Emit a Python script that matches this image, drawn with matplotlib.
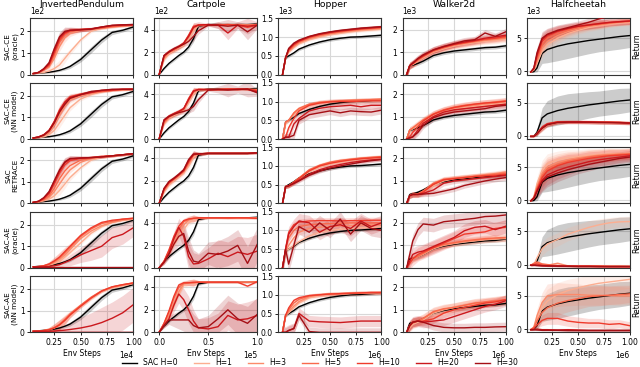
import numpy as np
import matplotlib
matplotlib.use("Agg")
import matplotlib.pyplot as plt

ENVS = ["InvertedPendulum", "Cartpole", "Hopper", "Walker2d", "Halfcheetah"]
METHODS = ["SAC-CE\n(oracle)", "SAC-CE\n(NN model)", "SAC\nRETRACE",
           "SAC-AE\n(oracle)", "SAC-AE\n(NN model)"]
SERIES = ["SAC H=0", "H=1", "H=3", "H=5", "H=10", "H=20", "H=30"]
COLORS = ["#000000", "#fcae91", "#fc8a6a", "#f9694c", "#ef3b2c", "#cb181d", "#a50f15"]

X_SCALE = [1e4, 1e5, 1e6, 1e6, 1e6]
Y_SCALE = [1e2, 1e2, 1e3, 1e3, 1e3]

# ---------------- InvertedPendulum (x in 1e4 steps, y in 1e2) ----------------
IP_X = [0.05, 0.1, 0.15, 0.2, 0.25, 0.3, 0.35, 0.4, 0.5, 0.6, 0.7, 0.8, 0.9, 1.0]
IP_BLACK = [0.05, 0.07, 0.09, 0.11, 0.15, 0.2, 0.28, 0.38, 0.7, 1.15, 1.6, 1.95, 2.05, 2.2]
IP_BLACK_SD = [0.01, 0.02, 0.02, 0.03, 0.04, 0.05, 0.07, 0.09, 0.12, 0.15, 0.13, 0.1, 0.08, 0.07]
IP_SD_A = [0.02, 0.03, 0.06, 0.1, 0.18, 0.22, 0.2, 0.14, 0.09, 0.07, 0.06, 0.05, 0.05, 0.05]
IP_R1 = [
    [0.05, 0.07, 0.1, 0.17, 0.28, 0.45, 0.75, 1.05, 1.6, 2.0, 2.15, 2.2, 2.25, 2.28],
    [0.05, 0.1, 0.2, 0.35, 0.75, 1.3, 1.7, 1.9, 2.05, 2.1, 2.15, 2.2, 2.25, 2.28],
    [0.05, 0.1, 0.22, 0.4, 0.9, 1.5, 1.85, 2.0, 2.08, 2.1, 2.15, 2.22, 2.25, 2.3],
    [0.05, 0.1, 0.25, 0.45, 1.0, 1.6, 1.9, 2.02, 2.08, 2.1, 2.18, 2.25, 2.28, 2.3],
    [0.05, 0.1, 0.25, 0.5, 1.1, 1.7, 1.95, 2.05, 2.08, 2.12, 2.2, 2.27, 2.3, 2.3],
    [0.05, 0.1, 0.28, 0.55, 1.2, 1.75, 2.0, 2.05, 2.07, 2.1, 2.2, 2.28, 2.3, 2.32],
]
IP_R2 = [
    [0.05, 0.07, 0.1, 0.2, 0.4, 0.75, 1.1, 1.45, 1.85, 2.05, 2.2, 2.25, 2.28, 2.3],
    [0.05, 0.08, 0.15, 0.3, 0.65, 1.1, 1.5, 1.8, 2.0, 2.1, 2.18, 2.25, 2.28, 2.3],
    [0.05, 0.09, 0.18, 0.35, 0.75, 1.25, 1.65, 1.9, 2.05, 2.15, 2.2, 2.25, 2.28, 2.3],
    [0.05, 0.1, 0.2, 0.4, 0.8, 1.35, 1.7, 1.95, 2.08, 2.18, 2.22, 2.25, 2.3, 2.3],
    [0.05, 0.1, 0.2, 0.4, 0.8, 1.3, 1.7, 1.92, 2.05, 2.15, 2.25, 2.28, 2.3, 2.3],
    [0.05, 0.09, 0.18, 0.38, 0.75, 1.25, 1.6, 1.88, 2.05, 2.2, 2.25, 2.3, 2.3, 2.3],
]
IP_R3 = [
    [0.05, 0.07, 0.12, 0.2, 0.35, 0.6, 0.9, 1.2, 1.65, 2.0, 2.15, 2.2, 2.25, 2.28],
    [0.05, 0.08, 0.15, 0.28, 0.55, 0.9, 1.25, 1.55, 1.9, 2.08, 2.15, 2.2, 2.25, 2.28],
    [0.05, 0.09, 0.18, 0.35, 0.7, 1.15, 1.5, 1.75, 2.0, 2.1, 2.15, 2.2, 2.25, 2.28],
    [0.05, 0.1, 0.22, 0.45, 0.9, 1.4, 1.78, 1.98, 2.08, 2.12, 2.18, 2.2, 2.25, 2.3],
    [0.05, 0.1, 0.25, 0.5, 1.0, 1.5, 1.88, 2.05, 2.1, 2.12, 2.15, 2.2, 2.25, 2.3],
    [0.05, 0.1, 0.27, 0.55, 1.05, 1.55, 1.92, 2.08, 2.1, 2.12, 2.15, 2.2, 2.25, 2.3],
]
IP_R4 = [
    [0.05, 0.06, 0.08, 0.12, 0.2, 0.32, 0.5, 0.7, 1.15, 1.6, 1.9, 2.1, 2.2, 2.25],
    [0.05, 0.06, 0.09, 0.15, 0.25, 0.4, 0.6, 0.85, 1.35, 1.7, 1.95, 2.1, 2.2, 2.28],
    [0.05, 0.06, 0.1, 0.17, 0.3, 0.47, 0.7, 0.95, 1.45, 1.8, 2.05, 2.15, 2.25, 2.28],
    [0.05, 0.06, 0.1, 0.18, 0.32, 0.5, 0.75, 1.0, 1.5, 1.85, 2.1, 2.2, 2.25, 2.3],
    [0.05, 0.05, 0.05, 0.07, 0.1, 0.15, 0.25, 0.35, 0.6, 0.8, 1.0, 1.4, 1.55, 1.85],
    [0.03, 0.03, 0.03, 0.03, 0.03, 0.03, 0.03, 0.03, 0.03, 0.03, 0.03, 0.03, 0.03, 0.03],
]
IP_R4_SD_SLOW = [0.02, 0.02, 0.02, 0.03, 0.05, 0.1, 0.15, 0.25, 0.35, 0.45, 0.5, 0.5, 0.45, 0.4]
IP_R5 = [
    [0.05, 0.06, 0.08, 0.12, 0.2, 0.35, 0.55, 0.8, 1.2, 1.55, 1.88, 2.05, 2.15, 2.25],
    [0.05, 0.06, 0.08, 0.12, 0.2, 0.35, 0.55, 0.82, 1.22, 1.6, 1.9, 2.08, 2.18, 2.27],
    [0.05, 0.06, 0.08, 0.13, 0.22, 0.37, 0.6, 0.85, 1.25, 1.62, 1.92, 2.1, 2.2, 2.28],
    [0.05, 0.06, 0.08, 0.12, 0.2, 0.34, 0.55, 0.8, 1.2, 1.58, 1.9, 2.1, 2.2, 2.28],
    [0.05, 0.05, 0.05, 0.05, 0.06, 0.08, 0.1, 0.13, 0.2, 0.3, 0.45, 0.65, 0.9, 1.27],
    [0.03, 0.03, 0.03, 0.03, 0.03, 0.03, 0.03, 0.03, 0.03, 0.03, 0.03, 0.03, 0.03, 0.03],
]
IP_R5_SD_SLOW = [0.02, 0.02, 0.03, 0.05, 0.1, 0.15, 0.25, 0.35, 0.5, 0.6, 0.7, 0.75, 0.8, 0.8]
IP_SD = [
    [IP_SD_A] * 6,
    [IP_SD_A] * 6,
    [IP_SD_A] * 6,
    [IP_SD_A, IP_SD_A, IP_SD_A, IP_SD_A, IP_R4_SD_SLOW, 0.02],
    [IP_SD_A, IP_SD_A, IP_SD_A, IP_SD_A, IP_R5_SD_SLOW, 0.02],
]

# ---------------- Cartpole (x in 1e5 steps, y in 1e2) ----------------
CP_X = [0, 0.05, 0.1, 0.15, 0.2, 0.25, 0.3, 0.35, 0.4, 0.5, 0.6, 0.7, 0.8, 0.9, 1.0]
CP_BLACK = [0, 0.55, 1.0, 1.35, 1.7, 2.0, 2.45, 3.2, 4.3, 4.45, 4.45, 4.45, 4.45, 4.45, 4.5]
CP_BLACK_SD = [0, 0.1, 0.12, 0.15, 0.15, 0.15, 0.2, 0.3, 0.15, 0.05, 0.05, 0.05, 0.05, 0.05, 0.05]
CP_SD_A = [0, 0.15, 0.2, 0.2, 0.2, 0.2, 0.25, 0.3, 0.15, 0.08, 0.08, 0.08, 0.08, 0.08, 0.08]
CP_SD_DIP = [0, 0.2, 0.2, 0.2, 0.2, 0.2, 0.3, 0.4, 0.3, 0.1, 0.3, 0.6, 0.3, 0.7, 0.3]
CP_SD_BAD = [0, 0.2, 0.4, 0.6, 0.8, 1.0, 1.2, 1.0, 0.8, 1.0, 1.2, 1.3, 1.4, 1.5, 1.5]
CP_R1 = [
    [0, 1.3, 1.85, 2.1, 2.35, 2.6, 3.1, 3.9, 4.35, 4.4, 4.4, 4.45, 4.45, 4.4, 4.45],
    [0, 1.45, 1.95, 2.15, 2.4, 2.7, 3.3, 4.1, 4.4, 4.4, 4.45, 4.4, 4.45, 4.4, 4.45],
    [0, 1.55, 2.0, 2.2, 2.45, 2.75, 3.4, 4.2, 4.4, 4.4, 4.45, 4.45, 4.4, 4.4, 4.45],
    [0, 1.65, 2.05, 2.25, 2.5, 2.8, 3.5, 4.3, 4.4, 4.45, 4.4, 4.45, 4.4, 4.2, 4.4],
    [0, 1.7, 2.05, 2.3, 2.5, 2.8, 3.4, 4.2, 4.4, 4.45, 4.4, 3.7, 4.4, 4.3, 4.4],
    [0, 1.7, 2.0, 2.3, 2.5, 2.7, 2.95, 3.4, 3.9, 4.4, 4.4, 4.3, 4.4, 3.8, 4.4],
]
CP_R2 = [
    [0, 1.3, 1.85, 2.1, 2.3, 2.55, 3.2, 4.0, 4.35, 4.4, 4.4, 4.4, 4.45, 4.4, 4.4],
    [0, 1.4, 1.9, 2.15, 2.35, 2.6, 3.4, 4.15, 4.4, 4.4, 4.4, 4.45, 4.45, 4.4, 4.4],
    [0, 1.5, 1.95, 2.2, 2.4, 2.65, 3.5, 4.25, 4.4, 4.4, 4.4, 4.45, 4.4, 4.45, 4.35],
    [0, 1.6, 2.0, 2.25, 2.45, 2.7, 3.6, 4.3, 4.4, 4.4, 4.4, 4.45, 4.4, 4.45, 4.3],
    [0, 1.7, 2.05, 2.25, 2.45, 2.7, 3.5, 4.25, 4.4, 4.4, 4.4, 4.4, 4.45, 4.4, 4.2],
    [0, 1.7, 2.0, 2.2, 2.35, 2.45, 2.6, 2.9, 3.5, 4.35, 4.4, 4.35, 4.4, 4.45, 4.1],
]
CP_R3 = [
    [0, 1.0, 1.65, 2.0, 2.35, 2.7, 3.3, 4.1, 4.4, 4.45, 4.45, 4.45, 4.45, 4.45, 4.5],
    [0, 1.1, 1.75, 2.1, 2.45, 2.8, 3.5, 4.25, 4.4, 4.45, 4.45, 4.45, 4.45, 4.45, 4.5],
    [0, 1.2, 1.8, 2.15, 2.5, 2.85, 3.6, 4.3, 4.4, 4.45, 4.45, 4.45, 4.45, 4.45, 4.5],
    [0, 1.25, 1.85, 2.2, 2.55, 2.9, 3.7, 4.35, 4.4, 4.45, 4.45, 4.45, 4.45, 4.45, 4.5],
    [0, 1.3, 1.9, 2.2, 2.55, 2.95, 3.8, 4.35, 4.4, 4.45, 4.45, 4.45, 4.45, 4.45, 4.5],
    [0, 1.35, 1.95, 2.25, 2.6, 3.0, 3.9, 4.4, 4.4, 4.45, 4.45, 4.45, 4.45, 4.45, 4.5],
]
CP_R4 = [
    [0, 0.5, 1.2, 2.0, 2.7, 3.4, 4.0, 4.3, 4.4, 4.45, 4.45, 4.45, 4.4, 4.45, 4.45],
    [0, 0.55, 1.3, 2.3, 3.1, 3.8, 4.25, 4.4, 4.4, 4.45, 4.45, 4.45, 4.45, 4.4, 4.45],
    [0, 0.6, 1.5, 2.6, 3.4, 4.1, 4.3, 4.4, 4.4, 4.45, 4.45, 4.4, 4.45, 4.45, 4.4],
    [0, 0.6, 1.6, 2.8, 3.7, 4.2, 4.35, 4.4, 4.45, 4.45, 4.45, 4.45, 4.45, 4.45, 4.4],
    [0, 0.5, 1.3, 2.6, 3.6, 2.8, 1.0, 0.35, 0.4, 0.8, 1.3, 1.0, 1.4, 1.2, 1.5],
    [0, 0.5, 1.2, 2.1, 2.8, 3.05, 1.5, 0.6, 0.5, 1.3, 1.2, 1.5, 2.0, 0.4, 2.1],
]
CP_R5 = [
    [0, 0.6, 1.3, 2.3, 3.3, 4.2, 4.4, 4.4, 4.45, 4.45, 4.45, 4.45, 4.45, 4.45, 4.5],
    [0, 0.7, 1.5, 2.6, 3.6, 4.3, 4.4, 4.4, 4.45, 4.45, 4.45, 4.45, 4.45, 4.45, 4.5],
    [0, 0.8, 1.8, 3.0, 4.0, 4.35, 4.4, 4.4, 4.45, 4.45, 4.45, 4.45, 4.45, 4.45, 4.5],
    [0, 0.8, 1.9, 3.2, 4.2, 4.4, 4.4, 4.45, 4.45, 4.45, 4.45, 4.45, 4.45, 4.1, 4.5],
    [0, 0.6, 1.2, 2.4, 3.4, 2.9, 2.0, 1.0, 0.4, 0.3, 0.5, 1.5, 1.1, 1.2, 1.5],
    [0, 0.6, 1.1, 1.1, 1.1, 1.1, 1.1, 0.6, 0.4, 0.5, 1.2, 2.0, 1.2, 0.8, 1.6],
]
CP_SD = [
    [CP_SD_A, CP_SD_A, CP_SD_A, CP_SD_A, CP_SD_DIP, CP_SD_DIP],
    [CP_SD_A, CP_SD_A, CP_SD_A, CP_SD_A, CP_SD_A, CP_SD_DIP],
    [CP_SD_A] * 6,
    [CP_SD_A, CP_SD_A, CP_SD_A, CP_SD_A, CP_SD_BAD, CP_SD_BAD],
    [CP_SD_A, CP_SD_A, CP_SD_A, CP_SD_A, CP_SD_BAD, CP_SD_BAD],
]

# ---------------- Hopper (x in 1e6 steps, y in 1e3) ----------------
HO_X = [0.04, 0.07, 0.1, 0.15, 0.2, 0.3, 0.4, 0.5, 0.6, 0.7, 0.8, 0.9, 1.0]
HO_BLACK = [0, 0.45, 0.5, 0.58, 0.68, 0.79, 0.87, 0.93, 0.97, 1.0, 1.01, 1.03, 1.05]
HO_BLACK_SD = 0.04
HO_R1 = [
    [0, 0.45, 0.6, 0.72, 0.82, 0.93, 1.0, 1.06, 1.1, 1.14, 1.17, 1.19, 1.21],
    [0, 0.45, 0.62, 0.75, 0.85, 0.96, 1.03, 1.09, 1.13, 1.16, 1.19, 1.21, 1.23],
    [0, 0.45, 0.64, 0.77, 0.87, 0.98, 1.05, 1.1, 1.14, 1.18, 1.21, 1.23, 1.25],
    [0, 0.45, 0.66, 0.8, 0.89, 1.0, 1.07, 1.12, 1.16, 1.19, 1.22, 1.24, 1.26],
    [0, 0.45, 0.68, 0.82, 0.9, 1.01, 1.08, 1.13, 1.17, 1.2, 1.23, 1.25, 1.27],
    [0, 0.45, 0.7, 0.84, 0.92, 1.02, 1.09, 1.14, 1.18, 1.21, 1.24, 1.26, 1.28],
]
HO_R2 = [
    [0, 0.4, 0.5, 0.65, 0.78, 0.9, 0.96, 0.99, 1.01, 1.02, 1.03, 1.04, 1.05],
    [0, 0.45, 0.5, 0.68, 0.8, 0.92, 0.97, 1.0, 1.02, 1.03, 1.04, 1.05, 1.06],
    [0, 0.45, 0.5, 0.7, 0.82, 0.93, 0.98, 1.0, 1.02, 1.03, 1.04, 1.05, 1.06],
    [0, 0.05, 0.3, 0.55, 0.75, 0.9, 0.96, 0.99, 1.0, 1.0, 1.01, 1.02, 1.02],
    [0, 0.05, 0.05, 0.4, 0.55, 0.75, 0.82, 0.86, 0.88, 0.9, 0.86, 0.9, 0.9],
    [0, 0.05, 0.05, 0.1, 0.5, 0.65, 0.7, 0.75, 0.7, 0.75, 0.73, 0.72, 0.77],
]
HO_R3 = [
    [0, 0.45, 0.47, 0.55, 0.65, 0.85, 0.97, 1.05, 1.1, 1.15, 1.18, 1.2, 1.22],
    [0, 0.45, 0.47, 0.56, 0.67, 0.88, 1.0, 1.08, 1.13, 1.17, 1.2, 1.22, 1.24],
    [0, 0.45, 0.47, 0.57, 0.68, 0.9, 1.02, 1.1, 1.15, 1.18, 1.21, 1.23, 1.25],
    [0, 0.45, 0.47, 0.56, 0.66, 0.87, 1.0, 1.07, 1.12, 1.16, 1.19, 1.21, 1.23],
    [0, 0.45, 0.47, 0.55, 0.62, 0.78, 0.9, 0.98, 1.04, 1.09, 1.13, 1.16, 1.18],
    [0, 0.45, 0.47, 0.53, 0.6, 0.75, 0.86, 0.94, 1.0, 1.05, 1.1, 1.14, 1.17],
]
HO_R4 = [
    [0, 0.45, 0.5, 0.6, 0.7, 0.85, 0.95, 1.0, 1.03, 1.05, 1.07, 1.08, 1.1],
    [0, 0.45, 0.6, 0.8, 0.95, 1.05, 1.08, 1.1, 1.12, 1.13, 1.14, 1.15, 1.15],
    [0, 0.5, 0.8, 1.0, 1.1, 1.15, 1.17, 1.18, 1.19, 1.2, 1.2, 1.2, 1.2],
    [0, 0.5, 0.95, 1.15, 1.22, 1.25, 1.26, 1.26, 1.25, 1.26, 1.26, 1.27, 1.27],
    [0, 0.5, 0.9, 1.1, 1.25, 1.2, 0.95, 1.1, 1.15, 1.05, 1.25, 1.1, 1.2],
    [0, 0.5, 0.1, 0.6, 1.1, 0.95, 1.2, 1.0, 1.3, 0.9, 1.2, 1.05, 1.0],
]
HO_R5 = [
    [0, 0.45, 0.52, 0.65, 0.78, 0.92, 0.98, 1.0, 1.02, 1.03, 1.04, 1.05, 1.05],
    [0, 0.45, 0.55, 0.7, 0.82, 0.95, 1.0, 1.02, 1.03, 1.04, 1.05, 1.05, 1.06],
    [0, 0.45, 0.6, 0.78, 0.88, 0.97, 1.0, 1.02, 1.03, 1.04, 1.05, 1.06, 1.06],
    [0, 0.45, 0.65, 0.85, 0.92, 0.98, 1.0, 1.02, 1.03, 1.04, 1.05, 1.06, 1.06],
    [0, 0.0, 0.05, 0.1, 0.5, 0.3, 0.28, 0.27, 0.26, 0.28, 0.3, 0.3, 0.3],
    [0, 0.0, 0.05, 0.1, 0.45, 0.02, 0.0, 0.0, 0.0, 0.0, 0.0, 0.0, 0.0],
]
HO_SD = [
    [0.04] * 6,
    [0.05, 0.05, 0.05, 0.08, 0.1, 0.1],
    [0.05] * 6,
    [0.08, 0.08, 0.08, 0.08, 0.2, 0.2],
    [0.05, 0.05, 0.05, 0.05, 0.15, 0.12],
]

# ---------------- Walker2d (x in 1e6 steps, y in 1e3) ----------------
WA_X = [0.04, 0.07, 0.1, 0.15, 0.2, 0.3, 0.4, 0.5, 0.6, 0.7, 0.8, 0.9, 1.0]
WA_BLACK = [0, 0.4, 0.42, 0.5, 0.6, 0.85, 0.97, 1.05, 1.1, 1.15, 1.2, 1.22, 1.28]
WA_BLACK_SD = 0.08
WA_R1 = [
    [0, 0.4, 0.45, 0.6, 0.75, 1.0, 1.15, 1.27, 1.35, 1.42, 1.48, 1.52, 1.58],
    [0, 0.4, 0.47, 0.62, 0.78, 1.02, 1.18, 1.3, 1.38, 1.45, 1.52, 1.56, 1.62],
    [0, 0.4, 0.48, 0.65, 0.8, 1.05, 1.2, 1.32, 1.4, 1.48, 1.55, 1.6, 1.65],
    [0, 0.4, 0.5, 0.68, 0.82, 1.08, 1.22, 1.35, 1.42, 1.5, 1.58, 1.62, 1.7],
    [0, 0.4, 0.5, 0.7, 0.85, 1.1, 1.25, 1.35, 1.45, 1.52, 1.62, 1.68, 1.75],
    [0, 0.4, 0.52, 0.72, 0.88, 1.1, 1.25, 1.38, 1.5, 1.55, 1.85, 1.7, 1.9],
]
WA_R2 = [
    [0, 0.4, 0.45, 0.6, 0.78, 1.05, 1.22, 1.33, 1.4, 1.45, 1.5, 1.55, 1.6],
    [0, 0.4, 0.47, 0.65, 0.82, 1.1, 1.27, 1.38, 1.45, 1.5, 1.56, 1.6, 1.65],
    [0, 0.4, 0.5, 0.68, 0.85, 1.12, 1.3, 1.42, 1.5, 1.55, 1.6, 1.65, 1.7],
    [0, 0.1, 0.3, 0.55, 0.8, 1.1, 1.28, 1.4, 1.48, 1.55, 1.6, 1.63, 1.68],
    [0, 0.05, 0.1, 0.4, 0.7, 1.0, 1.2, 1.3, 1.35, 1.4, 1.45, 1.5, 1.55],
    [0, 0.05, 0.1, 0.3, 0.6, 0.95, 1.1, 1.2, 1.25, 1.3, 1.35, 1.45, 1.5],
]
WA_R3 = [
    [0, 0.35, 0.4, 0.4, 0.5, 0.8, 1.0, 1.1, 1.15, 1.2, 1.25, 1.3, 1.35],
    [0, 0.35, 0.4, 0.42, 0.55, 0.85, 1.05, 1.12, 1.18, 1.22, 1.28, 1.33, 1.4],
    [0, 0.35, 0.4, 0.42, 0.55, 0.9, 1.08, 1.12, 1.15, 1.2, 1.25, 1.3, 1.35],
    [0, 0.35, 0.4, 0.4, 0.5, 0.85, 1.05, 1.1, 1.15, 1.2, 1.22, 1.25, 1.3],
    [0, 0.35, 0.4, 0.4, 0.45, 0.6, 0.9, 1.0, 1.05, 1.1, 1.15, 1.2, 1.25],
    [0, 0.35, 0.4, 0.4, 0.42, 0.45, 0.55, 0.65, 0.8, 0.9, 1.0, 1.08, 1.15],
]
WA_R4 = [
    [0, 0.3, 0.4, 0.5, 0.6, 0.85, 1.0, 1.08, 1.15, 1.2, 1.25, 1.28, 1.3],
    [0, 0.3, 0.4, 0.5, 0.62, 0.88, 1.02, 1.1, 1.17, 1.22, 1.27, 1.3, 1.33],
    [0, 0.3, 0.42, 0.52, 0.65, 0.9, 1.05, 1.12, 1.2, 1.25, 1.3, 1.33, 1.35],
    [0, 0.2, 0.4, 0.6, 0.7, 0.9, 1.1, 1.3, 1.5, 1.55, 1.6, 1.75, 1.8],
    [0, 0.3, 0.6, 0.7, 0.75, 0.95, 1.15, 1.35, 1.65, 1.8, 1.85, 1.7, 1.85],
    [0, 0.6, 1.2, 1.7, 1.95, 1.9, 2.05, 2.1, 2.15, 2.2, 2.28, 2.3, 2.35],
]
WA_R5 = [
    [0, 0.2, 0.35, 0.45, 0.55, 0.85, 1.0, 1.1, 1.2, 1.25, 1.3, 1.35, 1.4],
    [0, 0.25, 0.4, 0.5, 0.6, 0.9, 1.02, 1.12, 1.2, 1.28, 1.32, 1.38, 1.45],
    [0, 0.3, 0.45, 0.5, 0.62, 0.92, 1.05, 1.1, 1.2, 1.3, 1.35, 1.4, 1.45],
    [0, 0.3, 0.45, 0.5, 0.5, 0.6, 0.85, 1.0, 1.1, 1.2, 1.3, 1.35, 1.45],
    [0, 0.3, 0.45, 0.5, 0.45, 0.5, 0.55, 0.7, 0.85, 1.0, 1.15, 1.25, 1.4],
    [0, 0.3, 0.45, 0.5, 0.45, 0.3, 0.22, 0.2, 0.2, 0.22, 0.22, 0.24, 0.25],
]
WA_SD = [
    [0.15] * 6,
    [0.15] * 6,
    [0.12] * 6,
    [0.15, 0.15, 0.15, 0.3, 0.3, 0.3],
    [0.2, 0.2, 0.2, 0.2, 0.25, 0.2],
]

# ---------------- Halfcheetah (x in 1e6 steps, y in 1e3) ----------------
HC_X = [0.04, 0.07, 0.1, 0.15, 0.2, 0.3, 0.4, 0.5, 0.6, 0.7, 0.8, 0.9, 1.0]
HC_BLACK = [-0.1, -0.05, 0.5, 2.7, 3.3, 3.8, 4.15, 4.4, 4.65, 4.85, 5.05, 5.25, 5.4]
HC_BLACK_SD = [0.05, 0.1, 0.6, 1.5, 2.0, 2.2, 2.2, 2.1, 2.0, 1.9, 1.9, 1.9, 1.8]
HC_R1 = [
    [-0.1, 0.2, 1.2, 3.0, 4.0, 5.0, 5.7, 6.2, 6.6, 6.9, 7.1, 7.3, 7.4],
    [-0.1, 0.3, 1.5, 3.5, 4.5, 5.4, 6.0, 6.4, 6.8, 7.0, 7.2, 7.4, 7.5],
    [-0.1, 0.3, 1.8, 4.0, 5.0, 5.7, 6.2, 6.6, 6.9, 7.1, 7.3, 7.45, 7.55],
    [-0.1, 0.4, 2.2, 4.5, 5.3, 6.0, 6.4, 6.8, 7.0, 7.2, 7.35, 7.5, 7.6],
    [-0.1, 0.5, 2.5, 4.8, 5.5, 6.1, 6.5, 6.8, 7.0, 7.2, 7.4, 7.5, 7.6],
    [-0.1, 0.5, 2.8, 5.0, 5.6, 6.2, 6.6, 7.0, 7.4, 7.9, 8.3, 8.6, 8.8],
]
HC_R2 = [
    [-0.1, -0.1, 0.2, 1.0, 1.6, 2.0, 2.05, 2.05, 2.05, 2.0, 2.0, 1.95, 1.9],
    [-0.1, -0.1, 0.3, 1.2, 1.7, 2.05, 2.1, 2.1, 2.05, 2.05, 2.0, 2.0, 1.95],
    [-0.1, -0.1, 0.3, 1.2, 1.75, 2.05, 2.1, 2.1, 2.1, 2.05, 2.05, 2.0, 1.95],
    [-0.1, -0.1, 0.35, 1.3, 1.8, 2.1, 2.1, 2.1, 2.1, 2.05, 2.05, 2.0, 1.95],
    [-0.1, -0.1, 0.3, 1.25, 1.75, 2.05, 2.1, 2.1, 2.05, 2.05, 2.0, 2.0, 1.9],
    [-0.1, -0.1, 0.25, 1.1, 1.65, 2.0, 2.05, 2.05, 2.05, 2.0, 2.0, 1.95, 1.9],
]
HC_R3 = [
    [-0.1, 0.5, 2.5, 4.5, 5.5, 6.1, 6.4, 6.6, 6.8, 6.9, 7.0, 7.05, 7.1],
    [-0.1, 0.4, 2.0, 4.0, 5.0, 5.7, 6.1, 6.4, 6.6, 6.8, 6.9, 7.0, 7.05],
    [-0.1, 0.4, 1.8, 3.7, 4.7, 5.4, 5.9, 6.2, 6.5, 6.7, 6.8, 6.9, 7.0],
    [-0.1, 0.3, 1.6, 3.4, 4.4, 5.2, 5.7, 6.0, 6.3, 6.5, 6.7, 6.8, 6.9],
    [-0.1, 0.3, 1.4, 3.0, 3.8, 4.5, 5.0, 5.4, 5.8, 6.1, 6.3, 6.5, 6.7],
    [-0.1, 0.3, 1.3, 2.8, 3.5, 4.1, 4.6, 5.0, 5.4, 5.7, 6.0, 6.3, 6.5],
]
HC_R4 = [
    [-0.1, 0.0, 1.0, 2.4, 3.1, 3.8, 4.6, 5.1, 5.6, 6.0, 6.3, 6.45, 6.5],
    [-0.1, 0.1, 0.3, 0.0, -0.1, 0.2, -0.2, -0.2, -0.25, -0.2, -0.25, -0.25, -0.25],
    [-0.1, 0.2, 0.4, 0.1, 0.0, -0.15, -0.2, -0.2, -0.2, -0.25, -0.25, -0.25, -0.3],
    [-0.1, 0.0, 0.1, -0.1, -0.15, -0.2, -0.2, -0.25, -0.25, -0.25, -0.3, -0.3, -0.3],
    [-0.1, -0.1, -0.1, -0.15, -0.2, -0.2, -0.25, -0.25, -0.25, -0.3, -0.3, -0.3, -0.3],
    [-0.1, -0.1, -0.15, -0.2, -0.2, -0.25, -0.25, -0.3, -0.3, -0.3, -0.3, -0.3, -0.3],
]
HC_R5 = [
    [-0.1, 0.2, 1.5, 3.2, 4.2, 5.2, 5.8, 6.2, 6.6, 6.9, 7.1, 7.3, 7.5],
    [-0.1, 0.3, 2.0, 4.0, 5.0, 5.2, 5.2, 5.2, 5.1, 5.1, 5.05, 5.0, 5.0],
    [-0.1, 0.2, 1.2, 2.5, 3.2, 3.9, 4.3, 4.6, 4.9, 5.0, 5.1, 5.2, 5.3],
    [-0.1, 0.1, 0.6, 1.3, 1.6, 1.6, 1.2, 1.0, 0.9, 0.9, 0.7, 0.8, 0.5],
    [-0.1, -0.1, 0.0, -0.1, -0.1, -0.15, -0.1, -0.15, -0.2, -0.2, -0.2, -0.2, -0.2],
    [-0.1, -0.1, -0.15, -0.2, -0.2, -0.2, -0.25, -0.25, -0.25, -0.25, -0.25, -0.25, -0.25],
]
HC_SD_R1 = [0.05, 0.3, 0.8, 1.0, 0.9, 0.8, 0.7, 0.6, 0.6, 0.6, 0.5, 0.5, 0.5]
HC_SD_R2 = [0.05, 0.05, 0.2, 0.4, 0.3, 0.25, 0.25, 0.25, 0.25, 0.25, 0.25, 0.25, 0.25]
HC_SD_R3 = [0.05, 0.3, 1.0, 1.5, 1.5, 1.3, 1.2, 1.0, 1.0, 0.9, 0.9, 0.8, 0.8]
HC_SD_R4 = [0.05, 0.2, 0.6, 1.0, 1.0, 1.0, 1.0, 1.0, 1.0, 0.9, 0.8, 0.8, 0.8]
HC_SD_R5 = [0.05, 0.3, 1.0, 1.5, 1.8, 1.8, 1.7, 1.6, 1.5, 1.5, 1.4, 1.4, 1.3]
HC_SD_R5B = [0.05, 0.1, 0.5, 0.8, 0.9, 0.9, 0.8, 0.8, 0.7, 0.7, 0.7, 0.6, 0.6]
HC_SD = [
    [HC_SD_R1] * 6,
    [HC_SD_R2] * 6,
    [HC_SD_R3] * 6,
    [HC_SD_R4, 0.2, 0.2, 0.15, 0.1, 0.1],
    [HC_SD_R5, HC_SD_R5, HC_SD_R5, HC_SD_R5B, 0.15, 0.1],
]

# ---------------- assemble ----------------
XS = [IP_X, CP_X, HO_X, WA_X, HC_X]
BLACKS = [IP_BLACK, CP_BLACK, HO_BLACK, WA_BLACK, HC_BLACK]
BLACK_SDS = [IP_BLACK_SD, CP_BLACK_SD, HO_BLACK_SD, WA_BLACK_SD, HC_BLACK_SD]
REDS = [
    [IP_R1, IP_R2, IP_R3, IP_R4, IP_R5],
    [CP_R1, CP_R2, CP_R3, CP_R4, CP_R5],
    [HO_R1, HO_R2, HO_R3, HO_R4, HO_R5],
    [WA_R1, WA_R2, WA_R3, WA_R4, WA_R5],
    [HC_R1, HC_R2, HC_R3, HC_R4, HC_R5],
]
RED_SDS = [IP_SD, CP_SD, HO_SD, WA_SD, HC_SD]

X_LIMS = [(0.02, 1.0), (-0.05, 1.0), (0.0, 1.0), (0.0, 1.0), (0.0, 1.0)]
X_TICKS = [[0.25, 0.5, 0.75, 1.0], [0.0, 0.5, 1.0], [0.25, 0.5, 0.75, 1.0],
           [0.25, 0.5, 0.75, 1.0], [0.25, 0.5, 0.75, 1.0]]
Y_LIMS = [(0, 2.6), (0, 5.0), (0, 1.5), (0, 2.5), (-0.5, 8.0)]
Y_TICKS = [[0, 1, 2], [0, 2, 4], [0, 0.5, 1.0, 1.5], [0, 1, 2], [0, 5]]

FS = 5.5
plt.rcParams["font.family"] = ["DejaVu Sans"]
fig, axes = plt.subplots(5, 5, figsize=(6.4, 3.67), dpi=100, sharex="col")
fig.subplots_adjust(left=0.047, right=0.984, top=0.950, bottom=0.0945,
                    wspace=0.204, hspace=0.144)

for c in range(5):
    x = np.asarray(XS[c]) * X_SCALE[c]
    for r in range(5):
        ax = axes[r, c]
        ax.grid(True, color="#d8d8d8", lw=0.8, zorder=0)
        ax.set_axisbelow(True)
        series = [BLACKS[c]] + REDS[c][r]
        sds = [BLACK_SDS[c]] + RED_SDS[c][r]
        for k, (m, s) in enumerate(zip(series, sds)):
            m = np.asarray(m, float) * Y_SCALE[c]
            s = np.broadcast_to(np.asarray(s, float), m.shape) * Y_SCALE[c]
            col = COLORS[k]
            ax.fill_between(x, m - s, m + s, color=col,
                            alpha=0.18 if k else 0.2, lw=0, zorder=1 + k * 0.01)
            ax.plot(x, m, color=col, lw=1.0, zorder=3 + k * 0.01,
                    label=SERIES[k])
        ax.set_xlim(X_LIMS[c][0] * X_SCALE[c], X_LIMS[c][1] * X_SCALE[c])
        ax.set_xticks(np.asarray(X_TICKS[c]) * X_SCALE[c])
        ax.set_ylim(Y_LIMS[c][0] * Y_SCALE[c], Y_LIMS[c][1] * Y_SCALE[c])
        ax.set_yticks(np.asarray(Y_TICKS[c]) * Y_SCALE[c])
        ax.ticklabel_format(style="sci", scilimits=(0, 0), axis="both")
        ax.tick_params(labelsize=FS, length=2.5, width=0.6, pad=1.5)
        ax.xaxis.get_offset_text().set_fontsize(FS)
        ax.yaxis.get_offset_text().set_fontsize(FS)
        for sp in ax.spines.values():
            sp.set_linewidth(0.8)
            sp.set_color("#333333")
        if r > 0:
            ax.yaxis.get_offset_text().set_visible(False)
        if r == 0:
            ax.set_title(ENVS[c], fontsize=6.7, y=1.0, pad=8)
        if r == 4:
            ax.set_xlabel("Env Steps", fontsize=FS, labelpad=1.5)
        if c == 0:
            ax.set_ylabel(METHODS[r], fontsize=5.2, labelpad=1)
        if c == 4:
            ax.text(1.02, 0.5, "Return", rotation=90, transform=ax.transAxes,
                    va="center", ha="left", fontsize=FS)

handles, labels = axes[0, 0].get_legend_handles_labels()
fig.legend(handles, labels, loc="center", ncol=7, frameon=False,
           fontsize=FS, bbox_to_anchor=(0.5, 0.011), handlelength=2.0,
           columnspacing=2.1, borderpad=0.1)

fig.savefig("out.png", dpi=100)
